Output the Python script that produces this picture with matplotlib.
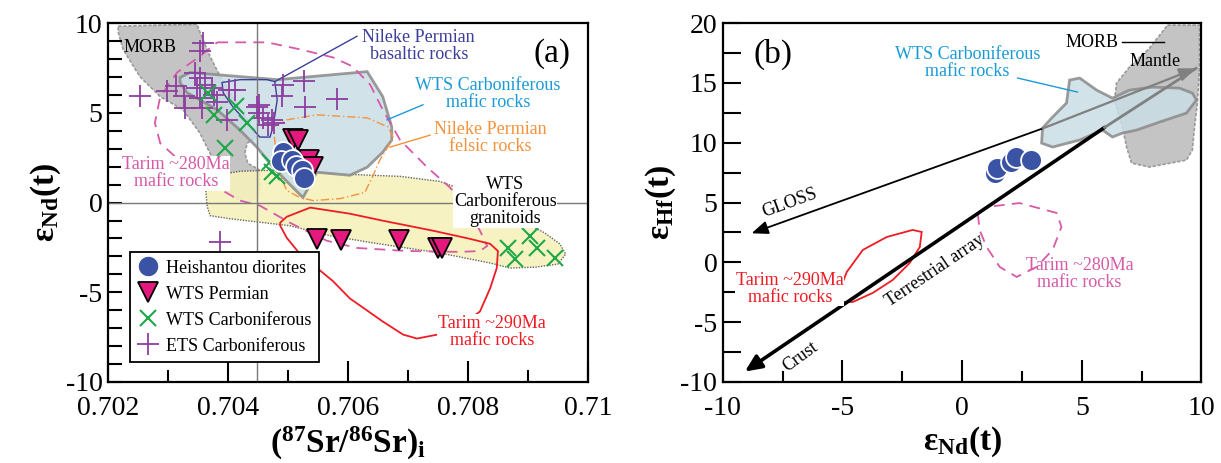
import matplotlib.pyplot as plt
from matplotlib.patches import Polygon
from matplotlib.lines import Line2D
from matplotlib.ticker import MultipleLocator, FixedLocator
import numpy as np

plt.rcParams['font.family'] = ['Liberation Serif', 'DejaVu Serif']
plt.rcParams['mathtext.fontset'] = 'custom'
plt.rcParams['mathtext.rm'] = 'Liberation Serif'
plt.rcParams['mathtext.bf'] = 'Liberation Serif:bold'
plt.rcParams['mathtext.it'] = 'Liberation Serif:italic'
plt.rcParams['axes.unicode_minus'] = False

# ---- panel (a): eNd(t) vs (87Sr/86Sr)i ----
heishantou_sr = [0.70492, 0.70488, 0.70506, 0.70514, 0.70523, 0.70526]
heishantou_nd = [2.83, 2.32, 2.40, 2.02, 1.80, 1.39]

wts_perm_sr = [0.70508, 0.70517, 0.70535, 0.70541, 0.70548, 0.70588, 0.70685, 0.70750, 0.70756]
wts_perm_nd = [3.55, 3.48, 2.36, 2.00, -2.04, -2.08, -2.08, -2.51, -2.51]

wts_carb_sr = [0.70367, 0.70414, 0.70376, 0.70431, 0.70395, 0.70470, 0.70473, 0.70481,
               0.70867, 0.70878, 0.70903, 0.70915, 0.70945]
wts_carb_nd = [6.10, 5.39, 4.89, 4.44, 3.02, 2.26, 1.70, 1.46,
               -2.51, -3.16, -1.89, -2.51, -3.07]

ets_carb_sr = [0.70359, 0.70353, 0.70253, 0.70298, 0.70314, 0.70326, 0.70345, 0.70353,
               0.70348, 0.70362, 0.70373, 0.70376, 0.70353, 0.70381, 0.70356, 0.70401,
               0.70412, 0.70398, 0.70451, 0.70451, 0.70459, 0.70473, 0.70467, 0.70492,
               0.70490, 0.70328, 0.70526, 0.70528, 0.70581, 0.70448, 0.70476, 0.70387]
ets_carb_nd = [8.91, 8.44, 5.92, 6.20, 6.48, 5.92, 7.23, 6.95,
               6.39, 6.57, 6.39, 6.01, 5.83, 5.63, 5.26, 6.29,
               6.29, 4.61, 5.45, 4.98, 4.70, 4.61, 4.33, 6.57,
               5.92, 5.26, 6.76, 5.35, 5.77, 5.35, 4.42, -2.20]

morb_a = [(0.70217, 9.83), (0.70348, 9.94), (0.70358, 9.10), (0.70370, 8.15), (0.70387, 7.02),
          (0.70408, 5.90), (0.70432, 4.61), (0.70448, 3.65), (0.70432, 3.31), (0.70428, 2.75),
          (0.70433, 2.19), (0.70453, 1.80), (0.70453, 0.84), (0.70448, 0.28), (0.70432, 0.00),
          (0.70408, 0.28), (0.70392, 0.84), (0.70382, 1.80), (0.70370, 2.75), (0.70353, 3.88),
          (0.70325, 5.17), (0.70287, 5.90), (0.70253, 7.02), (0.70225, 8.54), (0.70217, 9.49)]

wts_mafic_a = [(0.70320, 6.97), (0.70337, 7.25), (0.70482, 6.85), (0.70632, 7.30), (0.70658, 5.90),
               (0.70673, 4.21), (0.70673, 3.48), (0.70658, 2.81), (0.70632, 1.97), (0.70603, 1.52),
               (0.70548, 1.69), (0.70525, 0.28), (0.70508, 0.84), (0.70475, 1.97), (0.70448, 3.09),
               (0.70420, 4.04), (0.70382, 5.17), (0.70332, 6.12), (0.70320, 6.69)]

wts_granit_a = [(0.70370, 1.24), (0.70387, 1.57), (0.70420, 1.74), (0.70470, 1.80), (0.70537, 1.74),
                (0.70603, 1.57), (0.70687, 1.46), (0.70753, 1.18), (0.70795, 0.67), (0.70820, 0.11),
                (0.70853, -0.56), (0.70895, -1.12), (0.70928, -1.69), (0.70953, -2.30), (0.70963, -2.87),
                (0.70950, -3.43), (0.70912, -3.60), (0.70870, -3.65), (0.70837, -3.37), (0.70753, -2.81),
                (0.70642, -2.25), (0.70570, -1.85), (0.70503, -1.29), (0.70403, -0.90), (0.70370, -0.73),
                (0.70365, -0.17), (0.70363, 0.67)]

nileke_basalt = [(0.70390, 6.69), (0.70420, 6.85), (0.70465, 6.85), (0.70478, 6.74), (0.70482, 5.73),
                 (0.70475, 4.21), (0.70470, 3.65), (0.70453, 3.65), (0.70432, 4.44), (0.70408, 5.34),
                 (0.70392, 6.12)]

nileke_felsic = [(0.70475, 4.21), (0.70498, 4.61), (0.70548, 4.89), (0.70632, 4.72), (0.70667, 4.21),
                 (0.70675, 3.65), (0.70665, 3.03), (0.70653, 2.36), (0.70642, 1.52), (0.70628, 0.56),
                 (0.70587, 0.22), (0.70542, 0.11), (0.70520, 0.28), (0.70498, 0.67), (0.70487, 1.52),
                 (0.70480, 2.92)]

tarim280_a = [(0.70382, 8.93), (0.70465, 8.93), (0.70520, 8.54), (0.70575, 8.09), (0.70608, 7.58),
              (0.70637, 6.57), (0.70658, 5.17), (0.70687, 3.48), (0.70732, 1.97), (0.70770, 0.84),
              (0.70798, -0.28), (0.70820, -1.57), (0.70832, -2.42), (0.70820, -2.70), (0.70787, -2.75),
              (0.70698, -2.70), (0.70615, -2.53), (0.70565, -2.13), (0.70537, -1.69), (0.70503, -1.12),
              (0.70453, -0.17), (0.70420, 0.11), (0.70382, 0.84), (0.70328, 2.08), (0.70287, 3.31),
              (0.70278, 4.44), (0.70287, 5.90), (0.70315, 7.25), (0.70353, 8.15)]

tarim290_a = [(0.70487, -1.12), (0.70498, -0.79), (0.70537, -0.28), (0.70603, -0.62), (0.70658, -1.01),
              (0.70742, -1.57), (0.70803, -2.02), (0.70837, -2.30), (0.70850, -2.70), (0.70848, -3.65),
              (0.70837, -4.78), (0.70820, -6.07), (0.70787, -6.91), (0.70758, -7.30), (0.70715, -7.58),
              (0.70692, -7.36), (0.70658, -6.63), (0.70603, -5.34), (0.70575, -4.38), (0.70520, -2.87),
              (0.70498, -1.97), (0.70487, -1.29)]

# ---- panel (b): eHf(t) vs eNd(t) ----
heishantou_ndt = [1.36, 1.44, 2.05, 2.26, 2.89]
heishantou_hft = [7.44, 7.88, 8.41, 8.81, 8.56]

morb_b = [(8.58, 19.83), (9.92, 19.83), (9.92, 16.32), (9.83, 13.32), (9.71, 11.31), (9.62, 9.39),
          (9.37, 8.55), (7.83, 7.97), (7.08, 8.30), (6.87, 9.64), (6.70, 11.31), (6.37, 13.57),
          (6.45, 14.99), (6.99, 16.32), (7.83, 17.91)]

wts_mafic_b = [(3.36, 11.23), (3.78, 12.15), (4.36, 13.32), (4.49, 15.24), (4.91, 15.41), (5.62, 14.40),
               (6.28, 13.73), (6.99, 14.40), (7.95, 14.65), (9.08, 14.57), (9.62, 14.15), (9.79, 13.57),
               (9.37, 12.48), (8.25, 11.73), (7.29, 11.06), (6.70, 10.81), (6.28, 10.48), (5.87, 11.06),
               (4.91, 10.23), (3.78, 9.64), (3.32, 9.97)]

tarim290_b = [(-5.20, -2.72), (-4.82, -0.80), (-4.15, 1.04), (-3.15, 2.12), (-2.07, 2.71), (-1.69, 2.54),
              (-1.77, 1.29), (-2.19, -0.05), (-2.90, -1.47), (-3.74, -2.56), (-4.57, -3.31),
              (-5.11, -3.31), (-5.24, -2.89)]

tarim280_b = [(0.65, 4.13), (1.02, 4.63), (2.40, 4.96), (3.95, 4.13), (4.15, 2.96), (3.78, 1.04),
              (3.11, -0.38), (2.28, -1.22), (1.57, -0.38), (1.02, 1.29), (0.73, 2.71)]

gloss_start, gloss_end = (3.37, 11.2), (-8.8, 2.43)
array_start, array_end = (5.95, 11.28), (-9.08, -9.13)
mantle_tip = (9.77, 16.22)

# colours
c_blue = '#3b53a4'
c_pink = '#e5197d'
c_green = '#1ea84a'
c_purple = '#8c3f9f'
c_mafic = '#c9dde6'
c_granit = '#f6f1bb'
c_morb = '#c4c4c4'
c_tarim280 = '#d65aa8'
c_tarim290 = '#ee1c25'
c_orange = '#f5923e'
c_cyan = '#1b9ad7'
c_navy = '#3b3f98'

fig = plt.figure(figsize=(12.21, 4.63), dpi=100)
ax1 = fig.add_axes([0.0885, 0.175, 0.393, 0.775])
ax2 = fig.add_axes([0.592, 0.175, 0.392, 0.775])

label_bg = dict(facecolor='white', edgecolor='none', pad=0.5)

# ---------- panel (a) ----------
ax1.add_patch(Polygon(morb_a, closed=True, facecolor=c_morb, edgecolor='#9a9a9a',
                      lw=1.2, ls=(0, (2, 1)), zorder=1))
ax1.add_patch(Polygon(wts_mafic_a, closed=True, facecolor=c_mafic, edgecolor='#8a8a8a',
                      lw=2, alpha=0.85, zorder=1.2))
ax1.add_patch(Polygon(wts_granit_a, closed=True, facecolor=c_granit, edgecolor='#555555',
                      lw=1, ls=(0, (1, 1)), alpha=0.9, zorder=1.1))
ax1.add_patch(Polygon(nileke_basalt, closed=True, facecolor='none', edgecolor=c_navy,
                      lw=1, zorder=2))
ax1.add_patch(Polygon(nileke_felsic, closed=True, facecolor='none', edgecolor=c_orange,
                      lw=1, ls=(0, (6, 2, 1, 2)), zorder=2))
ax1.add_patch(Polygon(tarim280_a, closed=True, facecolor='none', edgecolor=c_tarim280,
                      lw=1.3, ls=(0, (6, 4)), zorder=2))
ax1.add_patch(Polygon(tarim290_a, closed=True, facecolor='none', edgecolor=c_tarim290,
                      lw=1.3, zorder=2))

ax1.axhline(0, color='#7a7a7a', lw=1, zorder=2.5)
ax1.axvline(0.70448, color='#7a7a7a', lw=1, zorder=2.5)

ax1.plot(ets_carb_sr, ets_carb_nd, ls='none', marker='+', ms=16, mew=1.3, color=c_purple, zorder=3)
ax1.plot(wts_carb_sr, wts_carb_nd, ls='none', marker='x', ms=12, mew=1.5, color=c_green, zorder=3.2)
ax1.plot(wts_perm_sr, wts_perm_nd, ls='none', marker='v', ms=14, mew=1.3, mfc=c_pink, mec='black', zorder=3.4)
ax1.plot(heishantou_sr, heishantou_nd, ls='none', marker='o', ms=15, mew=1.3, mfc=c_blue, mec='white', zorder=3.6)

# labels and leaders
ax1.plot([0.70478, 0.70615], [6.74, 9.27], color=c_navy, lw=1, zorder=2)
ax1.text(0.70718, 8.7, 'Nileke Permian\nbasaltic rocks', color=c_navy, fontsize=13,
         ha='center', va='center', linespacing=1.0, zorder=6)
ax1.plot([0.70665, 0.70725], [4.61, 5.45], color=c_cyan, lw=1, zorder=2)
ax1.text(0.70833, 6.07, 'WTS Carboniferous\nmafic rocks', color=c_cyan, fontsize=13,
         ha='center', va='center', linespacing=1.0, zorder=6)
ax1.plot([0.70670, 0.70737], [3.09, 3.76], color=c_orange, lw=1, zorder=2)
ax1.text(0.70837, 3.62, 'Nileke Permian\nfelsic rocks', color=c_orange, fontsize=13,
         ha='center', va='center', linespacing=1.0, zorder=6)
ax1.text(0.70862, 0.05, 'WTS\nCarboniferous\ngranitoids', color='black', fontsize=13,
         ha='center', va='center', linespacing=1.0, bbox=label_bg, zorder=6)
ax1.text(0.7027, 8.65, 'MORB', color='black', fontsize=13, ha='center', va='center', zorder=6)
ax1.text(0.70313, 1.62, 'Tarim ~280Ma\nmafic rocks', color=c_tarim280, fontsize=13,
         ha='center', va='center', linespacing=1.0, bbox=label_bg, zorder=6)
ax1.text(0.70840, -7.2, 'Tarim ~290Ma\nmafic rocks', color=c_tarim290, fontsize=13,
         ha='center', va='center', linespacing=1.0, bbox=label_bg, zorder=6)
ax1.text(0.7094, 8.3, '(a)', fontsize=24, ha='center', va='center', zorder=6)

ax1.set_xlim(0.702, 0.710)
ax1.set_ylim(-10, 10)
ax1.xaxis.set_major_locator(FixedLocator([0.702, 0.704, 0.706, 0.708, 0.710]))
ax1.xaxis.set_minor_locator(MultipleLocator(0.001))
ax1.set_xticklabels(['0.702', '0.704', '0.706', '0.708', '0.71'])
ax1.yaxis.set_major_locator(MultipleLocator(5))
ax1.yaxis.set_minor_locator(MultipleLocator(1))
ax1.tick_params(axis='x', which='major', direction='in', length=15, width=1.5, labelsize=20, pad=10)
ax1.tick_params(axis='x', which='minor', direction='in', length=9, width=1.5)
ax1.tick_params(axis='y', which='both', direction='in', length=10, width=1.5, labelsize=20, pad=4)
ax1.set_xlabel(r'$\mathbf{(^{87}Sr/^{86}Sr)_{i}}$', fontsize=24, labelpad=3)
ax1.set_ylabel(r'$\mathbf{\varepsilon_{Nd}(t)}$', fontsize=24, labelpad=2)

handles = [
    Line2D([], [], ls='none', marker='o', ms=15, mfc=c_blue, mec='white', label='Heishantou diorites'),
    Line2D([], [], ls='none', marker='v', ms=14, mfc=c_pink, mec='black', mew=1.3, label='WTS Permian'),
    Line2D([], [], ls='none', marker='x', ms=12, mew=1.5, color=c_green, label='WTS Carboniferous'),
    Line2D([], [], ls='none', marker='+', ms=16, mew=1.3, color=c_purple, label='ETS Carboniferous'),
]
leg = ax1.legend(handles=handles, loc='lower left', bbox_to_anchor=(0.046, 0.056), borderaxespad=0,
                 fontsize=13, frameon=True, fancybox=False, framealpha=1, edgecolor='black',
                 handletextpad=0.4, labelspacing=0.5, borderpad=0.4, handlelength=1.2)
leg.get_frame().set_linewidth(1.3)
leg.set_zorder(7)

# ---------- panel (b) ----------
ax2.add_patch(Polygon(morb_b, closed=True, facecolor=c_morb, edgecolor='#9a9a9a',
                      lw=1.2, ls=(0, (2, 1)), zorder=1))
ax2.add_patch(Polygon(wts_mafic_b, closed=True, facecolor=c_mafic, edgecolor='#8a8a8a',
                      lw=2, alpha=0.85, zorder=1.2))
ax2.add_patch(Polygon(tarim290_b, closed=True, facecolor='none', edgecolor=c_tarim290,
                      lw=1.3, zorder=2))
ax2.add_patch(Polygon(tarim280_b, closed=True, facecolor='none', edgecolor=c_tarim280,
                      lw=1.3, ls=(0, (6, 4)), zorder=2))

ax2.annotate('', xy=gloss_end, xytext=gloss_start,
             arrowprops=dict(arrowstyle='-|>,head_length=1.0,head_width=0.4', color='black',
                             lw=1.3, shrinkA=0, shrinkB=0), zorder=3)
ax2.annotate('', xy=array_end, xytext=array_start,
             arrowprops=dict(arrowstyle='-|>,head_length=1.0,head_width=0.45', color='black',
                             lw=2.6, shrinkA=0, shrinkB=0), zorder=3)
ax2.plot([array_start[0], mantle_tip[0]], [array_start[1], mantle_tip[1]], color='#808080',
         lw=2, zorder=3)
ax2.annotate('', xy=mantle_tip, xytext=gloss_start,
             arrowprops=dict(arrowstyle='-|>,head_length=1.0,head_width=0.4', color='#808080',
                             lw=1.6, shrinkA=0, shrinkB=0), zorder=3)

ax2.plot(heishantou_ndt, heishantou_hft, ls='none', marker='o', ms=15, mew=1.3,
         mfc=c_blue, mec='white', zorder=4)

ax2.text(-7.2, 5.0, 'GLOSS', fontsize=13, rotation=20, ha='center', va='center', zorder=6)
ax2.text(-1.15, -0.72, 'Terrestrial array', fontsize=13, rotation=34, ha='center', va='center', zorder=6)
ax2.text(-6.78, -7.9, 'Crust', fontsize=13, rotation=36, ha='center', va='center', zorder=6)
ax2.text(8.08, 16.8, 'Mantle', fontsize=13, ha='center', va='center', zorder=6)
ax2.text(5.42, 18.4, 'MORB', fontsize=13, ha='center', va='center', zorder=6)
ax2.plot([6.7, 8.45], [18.45, 18.45], color='black', lw=1, zorder=6)
ax2.text(0.23, 16.7, 'WTS Carboniferous\nmafic rocks', color=c_cyan, fontsize=13,
         ha='center', va='center', linespacing=1.0, zorder=6)
ax2.plot([2.32, 4.82], [15.41, 14.24], color=c_cyan, lw=1, zorder=6)
ax2.text(-7.2, -2.2, 'Tarim ~290Ma\nmafic rocks', color=c_tarim290, fontsize=13,
         ha='center', va='center', linespacing=1.0, bbox=label_bg, zorder=6)
ax2.text(4.9, -1.0, 'Tarim ~280Ma\nmafic rocks', color=c_tarim280, fontsize=13,
         ha='center', va='center', linespacing=1.0, zorder=6)
ax2.text(-7.9, 17.35, '(b)', fontsize=24, ha='center', va='center', zorder=6)

ax2.set_xlim(-10, 10)
ax2.set_ylim(-10, 20)
ax2.xaxis.set_major_locator(MultipleLocator(5))
ax2.xaxis.set_minor_locator(MultipleLocator(2.5))
ax2.yaxis.set_major_locator(MultipleLocator(5))
ax2.yaxis.set_minor_locator(MultipleLocator(2.5))
ax2.tick_params(axis='x', which='major', direction='in', length=16, width=1.5, labelsize=20, pad=10)
ax2.tick_params(axis='x', which='minor', direction='in', length=8, width=1.5)
ax2.tick_params(axis='y', which='major', direction='in', length=13, width=1.5, labelsize=20, pad=4)
ax2.tick_params(axis='y', which='minor', direction='in', length=13, width=1.5)
ax2.set_xlabel(r'$\mathbf{\varepsilon_{Nd}(t)}$', fontsize=24, labelpad=3)
ax2.set_ylabel(r'$\mathbf{\varepsilon_{Hf}(t)}$', fontsize=24, labelpad=2)

for ax in (ax1, ax2):
    for s in ax.spines.values():
        s.set_linewidth(1.6)

plt.savefig('out.png', dpi=100)
